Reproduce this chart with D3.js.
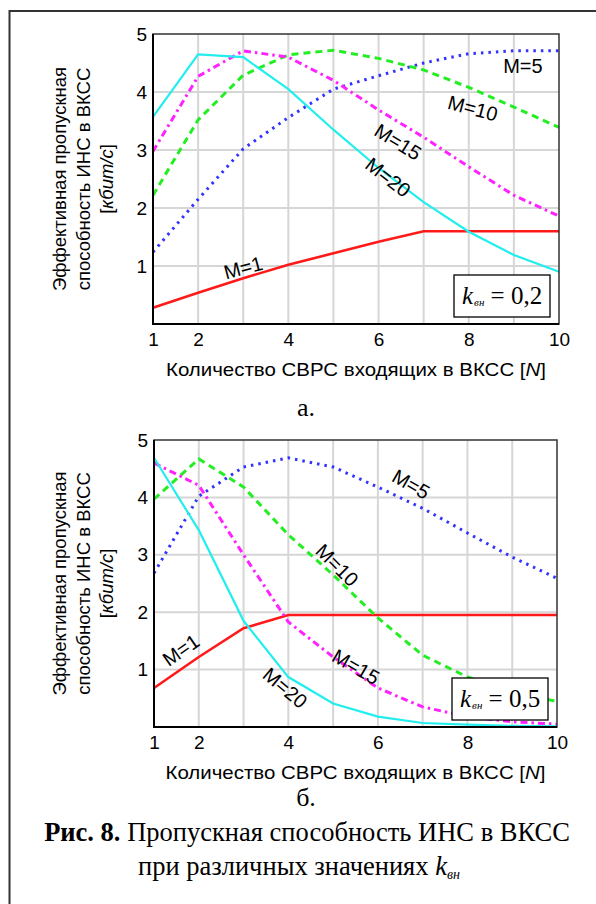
<!DOCTYPE html>
<html>
<head>
<meta charset="utf-8">
<script src="https://cdn.jsdelivr.net/npm/d3@7"></script>
<style>
    body { margin: 0; background: #fff; }
    svg { display: block; }
    text { font-family: Arial, "Liberation Sans", sans-serif; fill: #000; }
    .serif { font-family: "Times New Roman", "Liberation Serif", serif; }
</style>
</head>
<body>
<svg id="chart" width="596" height="904"></svg>
<script>
// Throughput of the network vs. number of stations N, for several M

// Data
const nValues = [1, 2, 3, 4, 5, 6, 7, 8, 9, 10];
const xTicks = [1, 2, 4, 6, 8, 10];
const yTicks = [1, 2, 3, 4, 5];
const seriesLabels = ["M=1", "M=5", "M=10", "M=15", "M=20"];

// k = 0,2
const m1K02  = [0.28, 0.54, 0.79, 1.02, 1.22, 1.42, 1.60, 1.60, 1.60, 1.60];
const m5K02  = [1.24, 2.15, 3.02, 3.56, 4.05, 4.28, 4.50, 4.66, 4.71, 4.71];
const m10K02 = [2.22, 3.52, 4.29, 4.64, 4.72, 4.58, 4.38, 4.08, 3.74, 3.39];
const m15K02 = [2.98, 4.27, 4.71, 4.60, 4.20, 3.69, 3.22, 2.71, 2.22, 1.86];
const m20K02 = [3.57, 4.65, 4.60, 4.05, 3.35, 2.69, 2.10, 1.59, 1.19, 0.90];

// k = 0,5
const m1K05  = [0.68, 1.22, 1.72, 1.95, 1.95, 1.95, 1.95, 1.95, 1.95, 1.95];
const m5K05  = [2.68, 4.02, 4.53, 4.69, 4.53, 4.18, 3.81, 3.38, 2.96, 2.59];
const m10K05 = [3.97, 4.67, 4.18, 3.35, 2.65, 1.90, 1.25, 0.87, 0.64, 0.44];
const m15K05 = [4.60, 4.21, 3.00, 1.83, 1.22, 0.68, 0.35, 0.18, 0.09, 0.05];
const m20K05 = [4.69, 3.43, 1.85, 0.87, 0.41, 0.18, 0.07, 0.04, 0.02, 0.01];

// Line styles, same order as seriesLabels
const styles = [
    { color: "#ff1a1a", dash: null,        width: 2.6 },
    { color: "#3333ff", dash: "2.5,5",     width: 3 },
    { color: "#22ee22", dash: "7,5",       width: 3 },
    { color: "#ff22ff", dash: "7,4,2.5,4", width: 3 },
    { color: "#22eeee", dash: null,        width: 2.2 }
];

const panels = [
    {
        box: { left: 153, right: 559, top: 34, bottom: 324 },
        series: [m1K02, m5K02, m10K02, m15K02, m20K02],
        kText: "0,2",
        // label anchor in data units [N, value, rotation]
        labels: [[3.0, 0.97, -15], [9.2, 4.45, 0], [8.09, 3.72, 15], [6.43, 3.14, 32], [6.21, 2.53, 38]],
        caption: "а.",
        captionY: 416
    },
    {
        box: { left: 154, right: 557, top: 440, bottom: 727 },
        series: [m1K05, m5K05, m10K05, m15K05, m20K05],
        kText: "0,5",
        labels: [[1.6, 1.34, -35], [6.74, 4.23, 30], [5.09, 2.82, 45], [5.51, 1.05, 30], [3.93, 0.68, 40]],
        caption: "б.",
        captionY: 806
    }
];

const svg = d3.select("#chart");

svg.append("rect")
    .attr("width", 596).attr("height", 904)
    .attr("fill", "#fff");

// page frame
svg.append("rect")
    .attr("x", 9.5).attr("y", 11)
    .attr("width", 620).attr("height", 940)
    .attr("fill", "none")
    .attr("stroke", "#333")
    .attr("stroke-width", 2);

panels.forEach(drawPanel);

function drawPanel(p) {
    const b = p.box;
    const x = d3.scaleLinear().domain([1, 10]).range([b.left, b.right]);
    const y = d3.scaleLinear().domain([0, 5]).range([b.bottom, b.top]);
    const g = svg.append("g");

    // grid
    g.append("g").selectAll("line")
        .data(d3.range(2, 10))
        .join("line")
        .attr("x1", d => x(d)).attr("x2", d => x(d))
        .attr("y1", b.top).attr("y2", b.bottom)
        .attr("stroke", "#d6d6d6").attr("stroke-width", 2);
    g.append("g").selectAll("line")
        .data(yTicks.slice(0, 4))
        .join("line")
        .attr("y1", d => y(d)).attr("y2", d => y(d))
        .attr("x1", b.left).attr("x2", b.right)
        .attr("stroke", "#d6d6d6").attr("stroke-width", 2);

    // curves
    const line = d3.line()
        .x((d, i) => x(nValues[i]))
        .y(d => y(d));
    g.append("g").selectAll("path")
        .data(p.series)
        .join("path")
        .attr("d", line)
        .attr("fill", "none")
        .attr("stroke", (d, i) => styles[i].color)
        .attr("stroke-width", (d, i) => styles[i].width)
        .attr("stroke-dasharray", (d, i) => styles[i].dash);

    // plot frame
    g.append("rect")
        .attr("x", b.left).attr("y", b.top)
        .attr("width", b.right - b.left).attr("height", b.bottom - b.top)
        .attr("fill", "none").attr("stroke", "#333").attr("stroke-width", 1.5);
    g.append("path")
        .attr("d", `M${b.left},${b.top}V${b.bottom}H${b.right}`)
        .attr("fill", "none").attr("stroke", "#000").attr("stroke-width", 2);

    // axes (labels only, the frame draws the lines)
    const xAxis = d3.axisBottom(x).tickValues(xTicks).tickSize(0).tickPadding(9);
    g.append("g")
        .attr("transform", `translate(0,${b.bottom})`)
        .call(xAxis)
        .call(s => s.select(".domain").remove())
        .selectAll("text")
        .attr("font-size", 19).attr("font-family", "Arial, 'Liberation Sans', sans-serif");

    const yAxis = d3.axisLeft(y).tickValues(yTicks).tickFormat(d3.format("d")).tickSize(0).tickPadding(6);
    g.append("g")
        .attr("transform", `translate(${b.left},0)`)
        .call(yAxis)
        .call(s => s.select(".domain").remove())
        .selectAll("text")
        .attr("font-size", 19).attr("font-family", "Arial, 'Liberation Sans', sans-serif");

    // series labels
    g.append("g").selectAll("text")
        .data(p.labels)
        .join("text")
        .attr("transform", d => `translate(${x(d[0])},${y(d[1])}) rotate(${d[2]})`)
        .attr("text-anchor", "middle")
        .attr("dy", "0.35em")
        .attr("font-size", 20)
        .text((d, i) => seriesLabels[i]);

    // k box
    const kx = b.right - 105, ky = b.bottom - 49;
    g.append("rect")
        .attr("x", kx).attr("y", ky)
        .attr("width", 96).attr("height", 42)
        .attr("fill", "#fff").attr("stroke", "#000").attr("stroke-width", 1.3);
    const kt = g.append("text")
        .attr("class", "serif")
        .attr("x", kx + 8).attr("y", ky + 29)
        .attr("font-size", 25);
    kt.append("tspan").attr("font-style", "italic").text("k");
    kt.append("tspan").attr("font-style", "italic").attr("font-size", 11)
        .attr("dy", 2).attr("dx", 1).text("вн");
    kt.append("tspan").attr("dy", -2).text(" = " + p.kText);

    // axis titles
    g.append("text")
        .attr("x", (b.left + b.right) / 2).attr("y", b.bottom + 52)
        .attr("text-anchor", "middle")
        .attr("font-size", 19)
        .attr("textLength", 380)
        .attr("lengthAdjust", "spacingAndGlyphs")
        .call(t => {
            t.append("tspan").text("Количество СВРС входящих в ВКСС [");
            t.append("tspan").attr("font-style", "italic").text("N");
            t.append("tspan").text("]");
        });

    const cy = (b.top + b.bottom) / 2;
    const yTitle = g.append("text")
        .attr("transform", `translate(66,${cy}) rotate(-90)`)
        .attr("text-anchor", "middle")
        .attr("font-size", 18.5);
    yTitle.append("tspan").attr("x", 0).attr("dy", 0).text("Эффективная пропускная");
    yTitle.append("tspan").attr("x", 0).attr("dy", 23.5).text("способность ИНС в ВКСС");
    const t3 = yTitle.append("tspan").attr("x", 0).attr("dy", 23.5);
    t3.text("[");
    yTitle.append("tspan").attr("font-style", "italic").text("кбит/с");
    yTitle.append("tspan").text("]");

    // caption
    g.append("text")
        .attr("class", "serif")
        .attr("x", 306).attr("y", p.captionY)
        .attr("text-anchor", "middle")
        .attr("font-size", 26)
        .text(p.caption);
}

// figure caption
const cap = svg.append("text")
    .attr("class", "serif")
    .attr("x", 307).attr("y", 841)
    .attr("text-anchor", "middle")
    .attr("font-size", 26.5);
cap.append("tspan").attr("font-weight", "bold").text("Рис. 8.");
cap.append("tspan").text(" Пропускная способность ИНС в ВКСС");

const cap2 = svg.append("text")
    .attr("class", "serif")
    .attr("x", 299).attr("y", 875)
    .attr("text-anchor", "middle")
    .attr("font-size", 26.5);
cap2.append("tspan").text("при различных значениях ");
cap2.append("tspan").attr("font-style", "italic").text("k");
cap2.append("tspan").attr("font-style", "italic").attr("font-size", 14).attr("dy", 4).text("вн");
</script>
</body>
</html>
